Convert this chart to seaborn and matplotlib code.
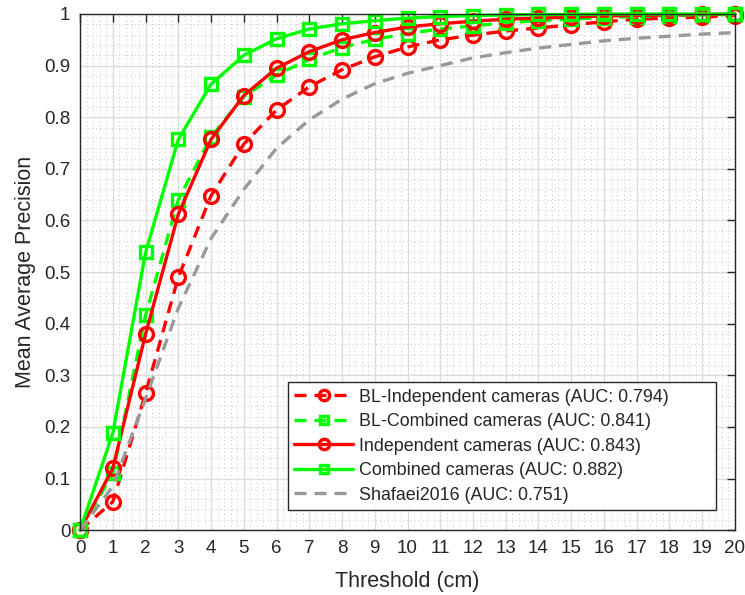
import numpy as np
import pandas as pd
import matplotlib
matplotlib.use('Agg')
import matplotlib.pyplot as plt
import seaborn as sns
from matplotlib.ticker import MultipleLocator

# threshold values (cm)
thresholds = list(range(21))

bl_independent = [0.0, 0.055, 0.265, 0.49, 0.648, 0.748, 0.814, 0.859, 0.892, 0.917, 0.936,
                  0.950, 0.959, 0.967, 0.973, 0.979, 0.985, 0.990, 0.992, 0.994, 0.997]
bl_combined = [0.0, 0.11, 0.416, 0.64, 0.762, 0.840, 0.882, 0.912, 0.935, 0.951, 0.962,
               0.971, 0.977, 0.983, 0.987, 0.990, 0.993, 0.995, 0.997, 0.998, 0.999]
independent = [0.0, 0.12, 0.38, 0.612, 0.757, 0.842, 0.895, 0.927, 0.950, 0.964, 0.975,
               0.981, 0.986, 0.990, 0.992, 0.994, 0.996, 0.997, 0.998, 0.999, 1.0]
combined = [0.0, 0.188, 0.538, 0.757, 0.864, 0.920, 0.952, 0.971, 0.981, 0.987, 0.992,
            0.995, 0.997, 0.998, 0.999, 0.999, 1.0, 1.0, 1.0, 1.0, 1.0]
shafaei = [0.0, 0.085, 0.255, 0.43, 0.565, 0.66, 0.74, 0.795, 0.835, 0.865, 0.885,
           0.90, 0.915, 0.925, 0.934, 0.941, 0.948, 0.953, 0.957, 0.961, 0.964]

labels = ['BL-Independent cameras (AUC: 0.794)',
          'BL-Combined cameras (AUC: 0.841)',
          'Independent cameras (AUC: 0.843)',
          'Combined cameras (AUC: 0.882)',
          'Shafaei2016 (AUC: 0.751)']

sns.set_style('white')
plt.rcParams['font.family'] = ['Liberation Sans', 'DejaVu Sans']

fig = plt.figure(figsize=(7.45, 5.95), dpi=100)
ax = fig.add_axes([0.1075, 0.109, 0.879, 0.8675])

red = (1, 0, 0)
green = (0, 1, 0)
gray = (0.6, 0.6, 0.6)
dash = (0, (3.6, 2.4))

# series styles: color, linestyle, marker, marker size
styles = [
    (bl_independent, red, dash, 'o', 10),
    (bl_combined, green, dash, 's', 8),
    (independent, red, '-', 'o', 10),
    (combined, green, '-', 's', 8),
    (shafaei, gray, dash, None, 0),
]

for (vals, col, ls, mk, ms), lab in zip(styles, labels):
    kw = dict(color=col, linewidth=2.4, label=lab)
    if mk:
        kw.update(marker=mk, markersize=ms, markeredgewidth=2.4,
                  markeredgecolor=col, markerfacecolor='none')
    sns.lineplot(x=thresholds, y=vals, ax=ax, **kw)
    ax.lines[-1].set_linestyle(ls)
    ax.lines[-1].set_clip_on(False)

ax.set_xlim(0, 20)
ax.set_ylim(0, 1)
ax.xaxis.set_major_locator(MultipleLocator(1))
ax.yaxis.set_major_locator(MultipleLocator(0.1))
ax.xaxis.set_minor_locator(MultipleLocator(0.2))
ax.yaxis.set_minor_locator(MultipleLocator(0.02))
ax.set_yticklabels(['0' if abs(t) < 1e-9 else ('1' if abs(t - 1) < 1e-9 else f'{t:.1f}')
                    for t in ax.get_yticks()])

ax.grid(which='major', color='#dcdcdc', linewidth=1.0, linestyle='-')
ax.grid(which='minor', color='#c8c8c8', linewidth=0.7, linestyle=(0, (1, 3)))
ax.set_axisbelow(True)

ax.tick_params(which='major', direction='in', length=6, width=1, top=True, right=True,
               labelsize=13.5, colors='#262626', pad=7)
ax.tick_params(which='minor', length=0)
for sp in ax.spines.values():
    sp.set_color('#262626')
    sp.set_linewidth(1.0)

ax.set_xlabel('Threshold (cm)', fontsize=15.5, color='#262626', labelpad=10)
ax.set_ylabel('Mean Average Precision', fontsize=15.5, color='#262626', labelpad=6)

leg = ax.legend(loc='lower left', bbox_to_anchor=(0.3176, 0.039, 0.6534, 0.2), mode='expand',
                fontsize=12.9, frameon=True, fancybox=False, edgecolor='#262626',
                framealpha=1, handlelength=3.3, handletextpad=0.3, borderpad=0.35,
                labelspacing=0.42, borderaxespad=0, markerscale=0.75)
leg.get_frame().set_linewidth(1.0)

fig.savefig('out.png', dpi=100)
